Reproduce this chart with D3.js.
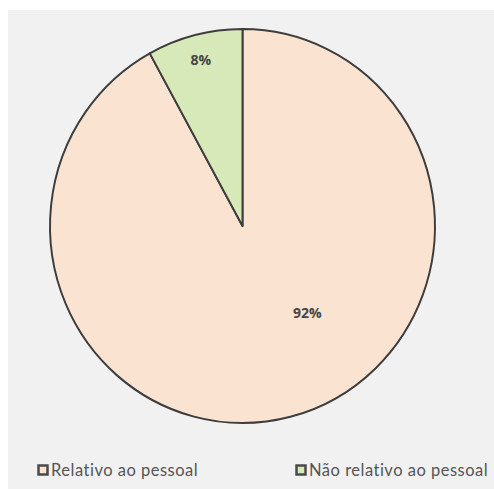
<!DOCTYPE html>
<html>
<head>
<meta charset="utf-8">
<script src="https://cdn.jsdelivr.net/npm/d3@7"></script>
<style>
  body { margin: 0; background: #fff; }
  svg { display: block; }
</style>
</head>
<body>
<div id="chart"></div>
<script>
// data
const categories = ["Relativo ao pessoal", "Não relativo ao pessoal"];
const values = [92, 8];
const labels = ["92%", "8%"];
const colors = ["#fbe3d1", "#d7e8b9"];

const width = 494, height = 489;
const cx = 242.5, cy = 226, radius = 197;

const svg = d3.select("#chart")
    .append("svg")
    .attr("width", width)
    .attr("height", height);

// grey panel behind the chart
svg.append("rect")
    .attr("x", 8).attr("y", 10)
    .attr("width", width - 8).attr("height", height - 10)
    .attr("fill", "#f1f1f1");

const pie = d3.pie().sort(null).value(d => d);
const arcs = pie(values);
const arc = d3.arc().innerRadius(0).outerRadius(radius);

// the scanned pie is a touch narrower than tall
const g = svg.append("g").attr("transform", `translate(${cx},${cy}) scale(0.977,1)`);

g.selectAll("path")
    .data(arcs)
    .join("path")
    .attr("d", arc)
    .attr("fill", (d, i) => colors[i])
    .attr("stroke", "#3d3d3d")
    .attr("stroke-width", 2)
    .attr("stroke-linejoin", "round");

// percent labels: angle offset (deg) from slice middle, and radius fraction
const labelShift = [-23, 0.6];
const labelPos = (d, i) => {
    const mid = (d.startAngle + d.endAngle) / 2;
    const a = i === 0 ? mid + labelShift[0] * Math.PI / 180 : mid;
    const r = i === 0 ? radius * 0.555 : radius * 0.87;
    return d3.pointRadial(a, r);
};
g.selectAll("text.pct")
    .data(arcs)
    .join("text")
    .attr("class", "pct")
    .attr("transform", (d, i) => `translate(${labelPos(d, i)}) scale(${1 / 0.977},1)`)
    .attr("text-anchor", "middle")
    .attr("dy", "0.35em")
    .attr("font-family", "'Open Sans', sans-serif")
    .attr("font-weight", "bold")
    .attr("font-size", 14)
    .attr("fill", "#454545")
    .text((d, i) => labels[i]);

// legend
const legendX = [37, 295];
const legend = svg.append("g")
    .selectAll("g")
    .data(categories)
    .join("g")
    .attr("transform", (d, i) => `translate(${legendX[i]},470)`);

legend.append("rect")
    .attr("x", 1.5).attr("y", -4.5)
    .attr("width", 9).attr("height", 9)
    .attr("fill", (d, i) => colors[i])
    .attr("stroke", "#4a4a4a")
    .attr("stroke-width", 2.5);

legend.append("text")
    .attr("x", 14)
    .attr("dy", "0.35em")
    .attr("font-family", "Lato, sans-serif")
    .attr("font-size", 16.5)
    .attr("letter-spacing", 0.5)
    .attr("fill", "#555")
    .text(d => d);
</script>
</body>
</html>
